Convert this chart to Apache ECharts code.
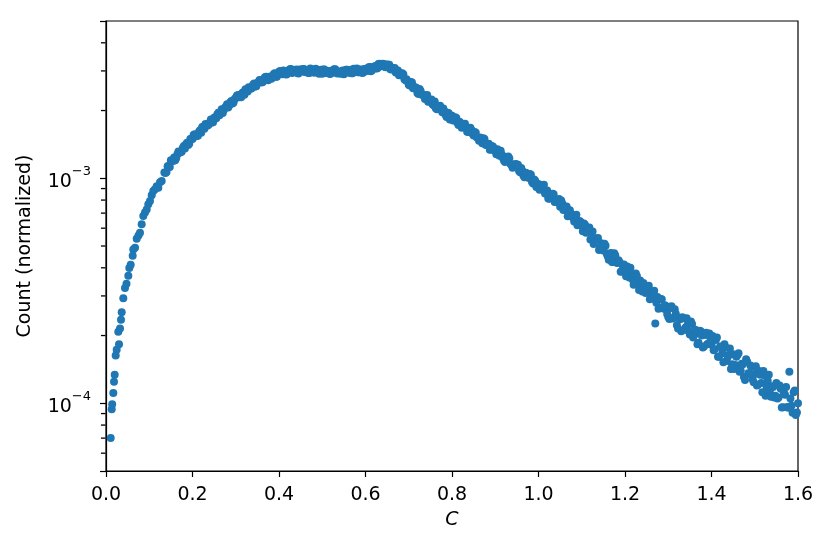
<!DOCTYPE html>
<html>
<head>
<meta charset="utf-8">
<script src="https://cdn.jsdelivr.net/npm/echarts@6/dist/echarts.min.js"></script>
<style>
html,body{margin:0;padding:0;background:#fff;}
#chart{width:830px;height:549px;}
</style>
</head>
<body>
<div id="chart"></div>
<script>
// x values (C), first set of bins
var cValues = [
0.0109,0.0132,0.0143,0.0169,0.0185,0.0201,0.0224,0.0247,0.0284,0.0301,0.0324,0.0347,0.0363,0.0400,0.0439,0.0474,0.0516,0.0539,0.0571,0.0617,0.0631,0.0671,0.0710,0.0751,0.0786,0.0825,0.0862,0.0902,0.0941,0.0978,0.1017,0.1057,0.1094,0.1133,0.1172,0.1209,0.1249,0.1288,
0.135,0.140,0.145,0.150,
0.155,0.160,0.165,0.170,0.175,0.180,0.185,0.190,0.195,0.200,
0.205,0.210,0.215,0.220,0.225,0.230,0.235,0.240,0.245,0.250,
0.255,0.260,0.265,0.270,0.275,0.280,0.285,0.290,0.295,0.300,
0.305,0.310,0.315,0.320,0.325,0.330,0.335,0.340,0.345,0.350,
0.355,0.360,0.365,0.370,0.375,0.380,0.385,0.390,0.395,0.400,
0.405,0.410,0.415,0.420,0.425,0.430,0.435,0.440,0.445,0.450,
0.455,0.460,0.465,0.470,0.475,0.480,0.485,0.490,0.495,0.500,
0.505,0.510,0.515,0.520,0.525,0.530,0.535,0.540,0.545,0.550,
0.555,0.560,0.565,0.570,0.575,0.580,0.585,0.590,0.595,0.600,
0.605,0.610,0.615,0.620,0.625,0.630,0.635,0.640,0.645,0.650,
0.655,0.660,0.665,0.670,0.675,0.680,0.685,0.690,0.695,0.700,
0.705,0.710,0.715,0.720,0.725,0.730,0.735,0.740,0.745,0.750,
0.755,0.760,0.765,0.770,0.775,0.780,0.785,0.790,0.795,0.800,
0.805,0.810,0.815,0.820,0.825,0.830,0.835,0.840,0.845,0.850,
0.855,0.860,0.865,0.870,0.875,0.880,0.885,0.890,0.895,0.900,
0.905,0.910,0.915,0.920,0.925,0.930,0.935,0.940,0.945,0.950,
0.955,0.960,0.965,0.970,0.975,0.980,0.985,0.990,0.995,1.000,
1.005,1.010,1.015,1.020,1.025,1.030,1.035,1.040,1.045,1.050,
1.055,1.060,1.065,1.070,1.075,1.080,1.085,1.090,1.095,1.100,
1.105,1.110,1.115,1.120,1.125,1.130,1.135,1.140,1.145,1.150,
1.155,1.160,1.165,1.170,1.175,1.180,1.185,1.190,1.195,1.200,
1.205,1.210,1.215,1.220,1.225,1.230,1.235,1.240,1.245,1.250,
1.255,1.260,1.265,1.270,1.275,1.280,1.285,1.290,1.295,1.300,
1.305,1.310,1.315,1.320,1.325,1.330,1.335,1.340,1.345,1.350,
1.355,1.360,1.365,1.370,1.375,1.380,1.385,1.390,1.395,1.400,
1.405,1.410,1.415,1.420,1.425,1.430,1.435,1.440,1.445,1.450,
1.455,1.460,1.465,1.470,1.475,1.480,1.485,1.490,1.495,1.500,
1.505,1.510,1.515,1.520,1.525,1.530,1.535,1.540,1.545,1.550,
1.555,1.560,1.565,1.570,1.575,1.580,1.585,1.590,1.595,1.600
];
var countValues = [
7.0e-5,9.4e-5,9.9e-5,1.11e-4,1.245e-4,1.34e-4,1.63e-4,1.73e-4,2.08e-4,1.83e-4,2.15e-4,2.35e-4,2.54e-4,2.93e-4,3.25e-4,3.40e-4,3.69e-4,3.99e-4,4.13e-4,4.53e-4,4.82e-4,4.91e-4,5.38e-4,5.57e-4,5.73e-4,6.24e-4,6.79e-4,7.05e-4,7.27e-4,7.66e-4,7.92e-4,8.4e-4,8.78e-4,8.93e-4,9.21e-4,9.08e-4,9.6e-4,9.73e-4,
1.061e-3,1.065e-3,1.136e-3,1.204e-3,
1.193e-3,1.204e-3,1.280e-3,1.299e-3,1.312e-3,1.393e-3,1.415e-3,1.407e-3,1.495e-3,1.495e-3,
1.571e-3,1.547e-3,1.611e-3,1.594e-3,1.692e-3,1.744e-3,1.718e-3,1.769e-3,1.769e-3,1.858e-3,
1.850e-3,1.955e-3,1.957e-3,1.948e-3,2.060e-3,2.134e-3,2.104e-3,2.203e-3,2.171e-3,2.271e-3,
2.342e-3,2.298e-3,2.395e-3,2.349e-3,2.460e-3,2.537e-3,2.502e-3,2.607e-3,2.557e-3,2.650e-3,
2.731e-3,2.663e-3,2.758e-3,2.827e-3,2.730e-3,2.828e-3,2.815e-3,2.929e-3,2.828e-3,2.974e-3,
2.911e-3,3.009e-3,2.901e-3,3.000e-3,3.055e-3,2.940e-3,3.005e-3,3.040e-3,2.925e-3,3.030e-3,
3.060e-3,2.970e-3,3.000e-3,2.940e-3,3.040e-3,2.950e-3,3.065e-3,2.975e-3,3.020e-3,2.915e-3,
3.045e-3,2.955e-3,2.995e-3,2.920e-3,3.020e-3,3.049e-3,2.925e-3,2.970e-3,3.000e-3,2.896e-3,
3.035e-3,2.950e-3,3.030e-3,2.930e-3,3.010e-3,3.075e-3,2.960e-3,3.040e-3,2.955e-3,3.065e-3,
3.010e-3,3.121e-3,3.018e-3,3.131e-3,3.073e-3,3.219e-3,3.144e-3,3.228e-3,3.126e-3,3.202e-3,
3.193e-3,3.044e-3,3.081e-3,2.950e-3,3.015e-3,2.891e-3,2.932e-3,2.758e-3,2.757e-3,2.607e-3,
2.675e-3,2.510e-3,2.538e-3,2.391e-3,2.492e-3,2.349e-3,2.341e-3,2.331e-3,2.186e-3,2.233e-3,
2.131e-3,2.192e-3,2.029e-3,2.079e-3,2.024e-3,2.040e-3,1.918e-3,1.954e-3,1.827e-3,1.897e-3,
1.812e-3,1.854e-3,1.727e-3,1.759e-3,1.688e-3,1.745e-3,1.609e-3,1.640e-3,1.638e-3,1.548e-3,
1.592e-3,1.512e-3,1.516e-3,1.431e-3,1.494e-3,1.404e-3,1.422e-3,1.343e-3,1.380e-3,1.323e-3,
1.346e-3,1.259e-3,1.276e-3,1.199e-3,1.244e-3,1.248e-3,1.161e-3,1.113e-3,1.150e-3,1.148e-3,
1.078e-3,1.112e-3,1.029e-3,1.058e-3,1.013e-3,1.045e-3,0.962e-3,0.988e-3,0.914e-3,0.944e-3,
0.903e-3,0.930e-3,0.856e-3,0.882e-3,0.810e-3,0.840e-3,0.849e-3,0.784e-3,0.789e-3,0.747e-3,
0.772e-3,0.726e-3,0.750e-3,0.681e-3,0.698e-3,0.669e-3,0.682e-3,0.618e-3,0.646e-3,0.617e-3,
0.629e-3,0.573e-3,0.585e-3,0.535e-3,0.580e-3,0.531e-3,0.537e-3,0.480e-3,0.514e-3,0.477e-3,
0.501e-3,0.450e-3,0.462e-3,0.425e-3,0.464e-3,0.422e-3,0.432e-3,0.384e-3,0.410e-3,0.384e-3,
0.405e-3,0.362e-3,0.373e-3,0.336e-3,0.377e-3,0.340e-3,0.351e-3,0.314e-3,0.331e-3,0.315e-3,
0.333e-3,0.296e-3,0.304e-3,0.226e-3,0.297e-3,0.266e-3,0.290e-3,0.263e-3,0.270e-3,0.242e-3,
0.265e-3,0.238e-3,0.262e-3,0.222e-3,0.239e-3,0.209e-3,0.239e-3,0.217e-3,0.224e-3,0.202e-3,
0.225e-3,0.201e-3,0.207e-3,0.186e-3,0.209e-3,0.177e-3,0.201e-3,0.183e-3,0.204e-3,0.182e-3,
0.172e-3,0.191e-3,0.161e-3,0.179e-3,0.167e-3,0.183e-3,0.154e-3,0.164e-3,0.142e-3,0.165e-3,
0.148e-3,0.164e-3,0.138e-3,0.150e-3,0.131e-3,0.157e-3,0.136e-3,0.147e-3,0.128e-3,0.135e-3,
0.120e-3,0.139e-3,0.123e-3,0.139e-3,0.108e-3,0.126e-3,0.112e-3,0.119e-3,0.106e-3,0.123e-3,
0.106e-3,0.116e-3,0.0960e-3,0.109e-3,0.0963e-3,0.138e-3,0.0974e-3,0.112e-3,0.0887e-3,0.100e-3
];
// x values (C), interleaved bins
var cValuesMid = [
0.1375,0.1425,0.1475,0.1525,0.1575,0.1625,0.1675,0.1725,0.1775,0.1825,0.1875,0.1925,0.1975,
0.2025,0.2075,0.2125,0.2175,0.2225,0.2275,0.2325,0.2375,0.2425,0.2475,
0.2525,0.2575,0.2625,0.2675,0.2725,0.2775,0.2825,0.2875,0.2925,0.2975,
0.3025,0.3075,0.3125,0.3175,0.3225,0.3275,0.3325,0.3375,0.3425,0.3475,
0.3525,0.3575,0.3625,0.3675,0.3725,0.3775,0.3825,0.3875,0.3925,0.3975,
0.4025,0.4075,0.4125,0.4175,0.4225,0.4275,0.4325,0.4375,0.4425,0.4475,
0.4525,0.4575,0.4625,0.4675,0.4725,0.4775,0.4825,0.4875,0.4925,0.4975,
0.5025,0.5075,0.5125,0.5175,0.5225,0.5275,0.5325,0.5375,0.5425,0.5475,
0.5525,0.5575,0.5625,0.5675,0.5725,0.5775,0.5825,0.5875,0.5925,0.5975,
0.6025,0.6075,0.6125,0.6175,0.6225,0.6275,0.6325,0.6375,0.6425,0.6475,
0.6525,0.6575,0.6625,0.6675,0.6725,0.6775,0.6825,0.6875,0.6925,0.6975,
0.7025,0.7075,0.7125,0.7175,0.7225,0.7275,0.7325,0.7375,0.7425,0.7475,
0.7525,0.7575,0.7625,0.7675,0.7725,0.7775,0.7825,0.7875,0.7925,0.7975,
0.8025,0.8075,0.8125,0.8175,0.8225,0.8275,0.8325,0.8375,0.8425,0.8475,
0.8525,0.8575,0.8625,0.8675,0.8725,0.8775,0.8825,0.8875,0.8925,0.8975,
0.9025,0.9075,0.9125,0.9175,0.9225,0.9275,0.9325,0.9375,0.9425,0.9475,
0.9525,0.9575,0.9625,0.9675,0.9725,0.9775,0.9825,0.9875,0.9925,0.9975,
1.0025,1.0075,1.0125,1.0175,1.0225,1.0275,1.0325,1.0375,1.0425,1.0475,
1.0525,1.0575,1.0625,1.0675,1.0725,1.0775,1.0825,1.0875,1.0925,1.0975,
1.1025,1.1075,1.1125,1.1175,1.1225,1.1275,1.1325,1.1375,1.1425,1.1475,
1.1525,1.1575,1.1625,1.1675,1.1725,1.1775,1.1825,1.1875,1.1925,1.1975,
1.2025,1.2075,1.2125,1.2175,1.2225,1.2275,1.2325,1.2375,1.2425,1.2475,
1.2525,1.2575,1.2625,1.2675,1.2725,1.2775,1.2825,1.2875,1.2925,1.2975,
1.3025,1.3075,1.3125,1.3175,1.3225,1.3275,1.3325,1.3375,1.3425,1.3475,
1.3525,1.3575,1.3625,1.3675,1.3725,1.3775,1.3825,1.3875,1.3925,1.3975,
1.4025,1.4075,1.4125,1.4175,1.4225,1.4275,1.4325,1.4375,1.4425,1.4475,
1.4525,1.4575,1.4625,1.4675,1.4725,1.4775,1.4825,1.4875,1.4925,1.4975,
1.5025,1.5075,1.5125,1.5175,1.5225,1.5275,1.5325,1.5375,1.5425,1.5475,
1.5525,1.5575,1.5625,1.5675,1.5725,1.5775,1.5825,1.5875,1.5925,1.5975
];
var countValuesMid = [
1.055e-3,1.130e-3,1.123e-3,1.196e-3,1.238e-3,1.232e-3,1.315e-3,1.308e-3,1.362e-3,1.355e-3,1.439e-3,1.425e-3,1.498e-3,
1.556e-3,1.539e-3,1.547e-3,1.635e-3,1.692e-3,1.659e-3,1.718e-3,1.734e-3,1.823e-3,1.776e-3,
1.868e-3,1.925e-3,1.908e-3,2.026e-3,2.009e-3,2.082e-3,2.061e-3,2.179e-3,2.148e-3,2.248e-3,
2.324e-3,2.291e-3,2.293e-3,2.414e-3,2.489e-3,2.430e-3,2.507e-3,2.522e-3,2.640e-3,2.563e-3,
2.676e-3,2.730e-3,2.676e-3,2.813e-3,2.758e-3,2.828e-3,2.771e-3,2.900e-3,2.828e-3,2.930e-3,
2.994e-3,2.901e-3,2.970e-3,2.891e-3,3.005e-3,3.058e-3,2.958e-3,2.993e-3,2.938e-3,3.045e-3,
2.985e-3,3.060e-3,2.970e-3,2.940e-3,3.073e-3,3.010e-3,2.948e-3,3.020e-3,2.915e-3,3.035e-3,
3.045e-3,2.940e-3,2.998e-3,2.906e-3,3.008e-3,3.049e-3,2.943e-3,2.970e-3,2.911e-3,3.015e-3,
2.958e-3,3.038e-3,2.953e-3,2.928e-3,3.068e-3,3.013e-3,2.958e-3,3.038e-3,2.938e-3,3.063e-3,
3.000e-3,3.111e-3,2.993e-3,3.105e-3,3.157e-3,3.083e-3,3.229e-3,3.154e-3,3.217e-3,3.116e-3,
3.197e-3,3.048e-3,3.085e-3,3.091e-3,2.960e-3,2.871e-3,2.919e-3,2.901e-3,2.724e-3,2.695e-3,
2.582e-3,2.663e-3,2.512e-3,2.526e-3,2.369e-3,2.444e-3,2.351e-3,2.249e-3,2.342e-3,2.199e-3,
2.237e-3,2.113e-3,2.047e-3,2.096e-3,2.102e-3,1.967e-3,1.983e-3,1.873e-3,1.947e-3,1.868e-3,
1.808e-3,1.869e-3,1.767e-3,1.783e-3,1.676e-3,1.734e-3,1.672e-3,1.605e-3,1.676e-3,1.577e-3,
1.606e-3,1.517e-3,1.469e-3,1.503e-3,1.506e-3,1.409e-3,1.420e-3,1.340e-3,1.392e-3,1.334e-3,
1.279e-3,1.322e-3,1.325e-3,1.233e-3,1.182e-3,1.222e-3,1.226e-3,1.146e-3,1.149e-3,1.157e-3,
1.149e-3,1.063e-3,1.081e-3,1.010e-3,1.054e-3,1.004e-3,1.036e-3,0.949e-3,0.974e-3,0.924e-3,
0.889e-3,0.931e-3,0.935e-3,0.856e-3,0.814e-3,0.848e-3,0.853e-3,0.784e-3,0.796e-3,0.808e-3,
0.796e-3,0.723e-3,0.736e-3,0.678e-3,0.720e-3,0.674e-3,0.642e-3,0.688e-3,0.628e-3,0.640e-3,
0.582e-3,0.622e-3,0.578e-3,0.604e-3,0.539e-3,0.510e-3,0.541e-3,0.543e-3,0.492e-3,0.498e-3,
0.511e-3,0.463e-3,0.434e-3,0.466e-3,0.425e-3,0.455e-3,0.420e-3,0.423e-3,0.385e-3,0.414e-3,
0.367e-3,0.393e-3,0.400e-3,0.355e-3,0.354e-3,0.368e-3,0.319e-3,0.339e-3,0.342e-3,0.309e-3,
0.327e-3,0.290e-3,0.308e-3,0.316e-3,0.280e-3,0.263e-3,0.291e-3,0.268e-3,0.273e-3,0.249e-3,
0.237e-3,0.270e-3,0.240e-3,0.250e-3,0.215e-3,0.236e-3,0.241e-3,0.212e-3,0.239e-3,0.209e-3,
0.231e-3,0.196e-3,0.212e-3,0.183e-3,0.210e-3,0.200e-3,0.179e-3,0.206e-3,0.184e-3,0.195e-3,
0.199e-3,0.174e-3,0.196e-3,0.161e-3,0.177e-3,0.152e-3,0.177e-3,0.161e-3,0.175e-3,0.149e-3,
0.142e-3,0.161e-3,0.167e-3,0.140e-3,0.149e-3,0.127e-3,0.153e-3,0.135e-3,0.145e-3,0.124e-3,
0.146e-3,0.121e-3,0.134e-3,0.112e-3,0.133e-3,0.118e-3,0.134e-3,0.107e-3,0.118e-3,0.108e-3,
0.105e-3,0.120e-3,0.0957e-3,0.111e-3,0.118e-3,0.0956e-3,0.105e-3,0.0907e-3,0.114e-3,0.0910e-3
];
// axis ticks
var xTickInterval = 0.2;
var yMajorTicks = [1e-4,1e-3];
var yMinorTicks = [6e-5,7e-5,8e-5,9e-5,2e-4,3e-4,4e-4,5e-4,6e-4,7e-4,8e-4,9e-4,2e-3,3e-3,4e-3];
var yMin = 5e-5, yMax = 5e-3;

var pts = [];
for (var i = 0; i < cValues.length; i++) pts.push([cValues[i], countValues[i]]);
for (var j = 0; j < cValuesMid.length; j++) pts.push([cValuesMid[j], countValuesMid[j]]);
// minor ticks sit on the y axis (x = axis minimum)
var minorTickPts = yMinorTicks.map(function(v){ return [0, v]; });

var chart = echarts.init(document.getElementById('chart'), null, {renderer:'canvas'});
var FONT = 'DejaVu Sans';
chart.setOption({
  animation: false,
  backgroundColor: '#fff',
  grid: {left:106, right:32, top:21, bottom:78, show:true, borderColor:'#000', borderWidth:1.2, outerBoundsMode:'none', containLabel:false},
  xAxis: {
    type:'value', min:0, max:1.6, interval:xTickInterval,
    name:'C', nameLocation:'middle', nameGap:40,
    nameTextStyle:{fontFamily:FONT, fontSize:19, fontStyle:'italic', color:'#000'},
    axisLine:{show:true, lineStyle:{color:'#000', width:1.2}},
    axisTick:{show:true, length:6, lineStyle:{color:'#000', width:1.2}},
    axisLabel:{fontFamily:FONT, fontSize:19, color:'#000', margin:15,
      formatter:function(v){ return v.toFixed(1); }},
    splitLine:{show:false}
  },
  yAxis: {
    type:'log', logBase:10, min:yMin, max:yMax, position:'left',
    name:'Count (normalized)', nameLocation:'middle', nameGap:71,
    nameTextStyle:{fontFamily:FONT, fontSize:19, color:'#000'},
    axisLine:{show:true, lineStyle:{color:'#000', width:1.2}},
    axisTick:{show:true, length:6, lineStyle:{color:'#000', width:1.2}},
    axisLabel:{customValues:yMajorTicks, margin:15, color:'#000',
      formatter:function(v){
        var e = Math.round(Math.log10(v));
        return '{b|10}{s|' + String(e).replace('-', '\u2212') + '}';
      },
      rich:{
        b:{fontFamily:FONT, fontSize:19, color:'#000', verticalAlign:'bottom', lineHeight:26},
        s:{fontFamily:FONT, fontSize:13, color:'#000', verticalAlign:'top', lineHeight:26}
      }
    },
    splitLine:{show:false}
  },
  series: [{
    type:'scatter',
    data: pts,
    symbol:'circle',
    symbolSize:8,
    itemStyle:{color:'#1f77b4', opacity:1},
    clip:true
  },{
    // minor log ticks drawn as short horizontal marks left of the axis
    type:'scatter',
    data: minorTickPts,
    symbol:'rect',
    symbolSize:[4.5, 1.3],
    symbolOffset:[-2.8, 0],
    itemStyle:{color:'#000', opacity:1},
    silent:true,
    clip:false,
    z:10
  }]
});
</script>
</body>
</html>
